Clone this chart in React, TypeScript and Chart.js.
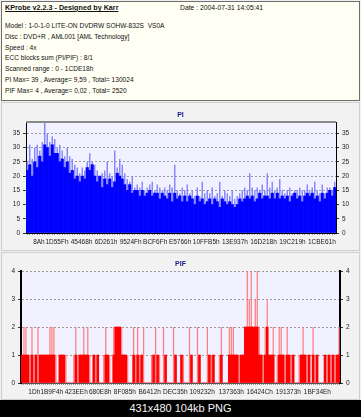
import React, { useEffect, useRef } from 'react';
import { Chart, registerables } from 'chart.js';

Chart.register(...registerables);

// ---------- text ----------
const headerTitle = 'KProbe v2.2.3 - Designed by Karr';
const headerDate = 'Date : 2004-07-31 14:05:41';
const headerLines = [
  'Model : 1-0-1-0 LITE-ON DVDRW SOHW-832S  VS0A',
  'Disc : DVD+R , AML001 [AML Technology]',
  'Speed : 4x',
  'ECC blocks sum (PI/PIF) : 8/1',
  'Scanned range : 0 - 1CDE18h',
  'PI Max= 39 , Average= 9,59 , Total= 130024',
  'PIF Max= 4 , Average= 0,02 , Total= 2520',
];
const imageCaption = '431x480 104kb PNG';
const piTitle = 'PI';
const pifTitle = 'PIF';

// ---------- axes ----------
const scanEndLabel = '1CDE18h';
const piTickLabels = ['8Ah', '1D55Fh', '45468h', '6D261h', '9524Fh', 'BCF6Fh', 'E5766h', '10FFB5h', '13E937h', '16D218h', '19C219h', '1CBE61h'];
const pifTickLabels = ['1Dh', '1B9F4h', '423EEh', '680E8h', '8F085h', 'B6412h', 'DEC35h', '109232h', '137363h', '16424Ch', '191373h', '1BF34Eh'];
const piYMax = 39;
const piYStep = 5;
const pifYMax = 4;
const pifYStep = 1;

// ---------- data ----------
// PI: peak (light spikes) and typical (solid) per sample block
const piPeak = [
  25, 31, 26, 30, 31, 29, 32, 39, 35, 32, 34, 33, 30, 31, 29, 27, 30, 27, 26, 24,
  23, 21, 23, 22, 25, 28, 25, 24, 22, 20, 21, 22, 25, 21, 20, 29, 23, 26, 24, 21,
  19, 18, 20, 16, 17, 16, 18, 15, 16, 17, 18, 15, 17, 16, 15, 16, 15, 17, 16, 24,
  15, 14, 16, 15, 17, 14, 15, 13, 16, 13, 18, 14, 15, 14, 16, 13, 14, 18, 13, 15,
  14, 13, 15, 12, 13, 14, 15, 16, 15, 21, 16, 15, 16, 15, 17, 15, 21, 16, 18, 15,
  16, 19, 15, 14, 15, 16, 14, 15, 15, 16, 15, 15, 17, 15, 16, 18, 15, 14, 17, 14,
  16, 16, 15, 18,
];
const piBase = [
  22, 24, 20, 25, 23, 27, 25, 31, 30, 27, 31, 28, 28, 25, 26, 23, 25, 21, 22, 19,
  20, 18, 20, 19, 23, 22, 24, 20, 18, 20, 16, 19, 17, 19, 16, 18, 21, 20, 19, 17,
  15, 17, 14, 15, 15, 13, 15, 13, 14, 15, 13, 14, 14, 12, 14, 13, 12, 14, 11, 14,
  12, 13, 11, 13, 11, 13, 12, 10, 13, 11, 12, 10, 11, 12, 10, 12, 11, 9, 12, 11,
  10, 11, 10, 9, 10, 12, 11, 12, 13, 12, 13, 11, 12, 14, 12, 13, 13, 12, 14, 12,
  14, 12, 13, 12, 13, 11, 13, 14, 12, 13, 11, 13, 14, 13, 14, 12, 13, 11, 14, 12,
  14, 15, 13, 16,
];
// PIF: peak (light spikes) and dense (solid) per sample block
const pifPeak = [
  1, 2, 2, 1, 1, 2, 1, 1, 2, 1, 1, 1, 1, 1, 2, 2, 2, 1, 0, 1,
  1, 1, 1, 0, 0, 0, 1, 2, 1, 1, 1, 2, 1, 2, 1, 0, 1, 1, 1, 0,
  0, 1, 2, 1, 1, 0, 2, 2, 2, 2, 2, 1, 1, 1, 0, 0, 2, 1, 2, 1,
  1, 2, 0, 0, 0, 1, 1, 2, 1, 1, 0, 2, 1, 0, 0, 0, 2, 1, 0, 0,
  1, 1, 0, 0, 2, 1, 0, 0, 2, 1, 0, 0, 0, 2, 1, 1, 1, 0, 0, 1,
  2, 0, 0, 0, 2, 2, 2, 1, 1, 1, 1, 1, 2, 4, 3, 4, 2, 3, 4, 2,
  1, 1, 2, 3, 1, 1, 2, 0, 1, 2, 2, 1, 1, 2, 1, 1, 1, 0, 0, 1,
  1, 2, 1, 1, 1, 0, 2, 1, 1, 0, 0, 0, 1, 1, 1, 1, 1, 1, 1, 2,
];
const pifBase = [
  1, 1, 1, 1, 0, 1, 0, 1, 0, 1, 1, 1, 1, 1, 1, 1, 1, 0, 0, 1,
  1, 1, 0, 0, 0, 0, 0, 1, 0, 1, 1, 1, 1, 1, 0, 0, 1, 0, 1, 0,
  0, 0, 1, 1, 0, 0, 1, 2, 2, 2, 1, 1, 1, 0, 0, 0, 1, 0, 1, 0,
  1, 0, 0, 0, 0, 0, 1, 0, 1, 0, 0, 0, 1, 0, 0, 0, 0, 1, 0, 0,
  1, 0, 0, 0, 0, 1, 0, 0, 0, 1, 0, 0, 0, 0, 1, 0, 1, 0, 0, 0,
  1, 0, 0, 0, 1, 1, 1, 1, 1, 0, 1, 1, 2, 2, 2, 2, 2, 2, 2, 1,
  1, 0, 1, 2, 1, 1, 1, 0, 0, 1, 1, 1, 0, 1, 1, 0, 1, 0, 0, 0,
  1, 1, 1, 0, 1, 0, 1, 0, 1, 0, 0, 0, 1, 0, 1, 0, 1, 0, 1, 1,
];

// ---------- helpers ----------
const FONT = '"Liberation Sans", Arial, sans-serif';
const hexOf = (label: string) => parseInt(label.replace(/h$/, ''), 16);

const plotFrame = {
  id: 'plotFrame',
  beforeDraw(chart: any, _args: any, opts: any) {
    const { ctx, chartArea: a } = chart;
    ctx.save();
    ctx.fillStyle = opts.fill;
    ctx.fillRect(a.left, a.top, a.right - a.left, a.bottom - a.top);
    ctx.restore();
  },
  afterDraw(chart: any, _args: any, opts: any) {
    if (!opts.topLine) return;
    const { ctx, chartArea: a } = chart;
    ctx.save();
    ctx.strokeStyle = opts.topLine;
    ctx.lineWidth = 2;
    ctx.beginPath();
    ctx.moveTo(a.left, a.top);
    ctx.lineTo(a.right, a.top);
    ctx.stroke();
    ctx.restore();
  },
};

type Params = {
  base: number[];
  peak: number[];
  baseColor: string;
  peakColor: string;
  peakWidth: number;
  yMax: number;
  yStep: number;
  tickLabels: string[];
  padTop: number;
  xAxisH: number;
  leftW: number;
  rightW: number;
  yAxisWidth: number;
  yAxisColor: string;
  xAxisColor: string;
  topLine: string | null;
};

function buildConfig(p: Params): any {
  const tickValues = p.tickLabels.map(hexOf);
  const tickFont = { family: FONT, size: 6.5 };
  const yTicks = {
    stepSize: p.yStep,
    includeBounds: false,
    padding: 3,
    color: '#222',
    font: tickFont,
  };
  return {
    type: 'bar',
    data: {
      labels: p.base.map((_, i) => String(i)),
      datasets: [
        {
          data: p.base,
          backgroundColor: p.baseColor,
          borderWidth: 0,
          barPercentage: 1,
          categoryPercentage: 1,
          grouped: false,
          xAxisID: 'x',
          yAxisID: 'y',
        },
        {
          data: p.peak,
          backgroundColor: p.peakColor,
          borderWidth: 0,
          barPercentage: p.peakWidth,
          categoryPercentage: 1,
          grouped: false,
          xAxisID: 'x',
          yAxisID: 'y',
        },
      ],
    },
    options: {
      responsive: false,
      animation: false,
      events: [],
      layout: { padding: { top: p.padTop, left: 0, right: 0, bottom: 0 } },
      plugins: {
        legend: { display: false },
        tooltip: { enabled: false },
        title: { display: false },
        plotFrame: { fill: '#f1f1ff', topLine: p.topLine },
      },
      scales: {
        x: {
          type: 'category',
          position: 'bottom',
          weight: 0,
          offset: true,
          grid: { display: true, drawOnChartArea: false, drawTicks: true, tickLength: 2, color: '#9a9a9a', offset: false },
          ticks: { display: false },
          border: { display: false },
          afterFit: (s: any) => { s.height = 0; },
        },
        xl: {
          type: 'linear',
          position: 'bottom',
          weight: 1,
          min: tickValues[0],
          max: hexOf(scanEndLabel),
          afterBuildTicks: (s: any) => { s.ticks = tickValues.map((v) => ({ value: v })); },
          ticks: {
            autoSkip: false,
            maxRotation: 0,
            minRotation: 0,
            padding: 5,
            color: '#222',
            font: tickFont,
            callback: (_v: any, i: number) => p.tickLabels[i],
          },
          grid: { display: true, drawOnChartArea: false, drawTicks: false },
          border: { display: true, color: p.xAxisColor, width: 1 },
          afterFit: (s: any) => { s.height = p.xAxisH; },
        },
        y: {
          position: 'left',
          min: 0,
          max: p.yMax,
          ticks: yTicks,
          grid: { color: '#9a9a9a', lineWidth: 1, drawTicks: true, tickLength: 3, tickColor: '#333' },
          border: { display: true, color: p.yAxisColor, width: p.yAxisWidth, dash: [2, 2] },
          afterFit: (s: any) => { s.width = p.leftW; },
        },
        y2: {
          position: 'right',
          min: 0,
          max: p.yMax,
          ticks: yTicks,
          grid: { drawOnChartArea: false, drawTicks: true, tickLength: 3, tickColor: '#333' },
          border: { display: true, color: p.yAxisColor, width: p.yAxisWidth },
          afterFit: (s: any) => { s.width = p.rightW; },
        },
      },
    },
    plugins: [plotFrame],
  };
}

function BarPanel(props: { params: Params; top: number; height: number }) {
  const ref = useRef<HTMLCanvasElement | null>(null);
  useEffect(() => {
    if (!ref.current) return;
    const chart = new Chart(ref.current, buildConfig(props.params));
    return () => chart.destroy();
  }, []);
  return (
    <canvas
      ref={ref}
      width={361}
      height={props.height}
      style={{ position: 'absolute', left: 0, top: props.top, width: 361, height: props.height }}
    />
  );
}

const textBase: React.CSSProperties = {
  position: 'absolute',
  fontFamily: FONT,
  fontSize: 6.6,
  lineHeight: '10px',
  height: 10,
  color: '#111',
  whiteSpace: 'pre',
};

export default function App() {
  const piParams: Params = {
    base: piBase,
    peak: piPeak,
    baseColor: '#0000ff',
    peakColor: '#7f7fff',
    peakWidth: 0.55,
    yMax: piYMax,
    yStep: piYStep,
    tickLabels: piTickLabels,
    padTop: 18,
    xAxisH: 17,
    leftW: 26,
    rightW: 25,
    yAxisWidth: 1,
    yAxisColor: '#000',
    xAxisColor: '#000',
    topLine: '#8a8a8a',
  };
  const pifParams: Params = {
    base: pifBase,
    peak: pifPeak,
    baseColor: '#ff0000',
    peakColor: '#ff7a7a',
    peakWidth: 0.6,
    yMax: pifYMax,
    yStep: pifYStep,
    tickLabels: pifTickLabels,
    padTop: 19,
    xAxisH: 16,
    leftW: 21,
    rightW: 21,
    yAxisWidth: 2,
    yAxisColor: '#000',
    xAxisColor: '#555',
    topLine: null,
  };

  return (
    <div style={{ position: 'absolute', left: 0, top: 0, width: 361, height: 417, overflow: 'hidden', background: '#f0f0f0' }}>
      {/* header box */}
      <div style={{ position: 'absolute', left: 1, top: 1, width: 357, height: 98, background: '#fffff3', border: '1px solid #6e6e6e' }} />
      <div style={{ ...textBase, left: 5, top: 3, fontSize: 7.2, fontWeight: 'bold', textDecoration: 'underline' }}>{headerTitle}</div>
      <div style={{ ...textBase, left: 180, top: 3, fontSize: 6.8 }}>{headerDate}</div>
      {headerLines.map((t, i) => (
        <div key={i} style={{ ...textBase, left: 5, top: 21 + i * 10.8 }}>{t}</div>
      ))}

      {/* PI panel */}
      <div style={{ position: 'absolute', left: 1, top: 102, width: 357, height: 147, background: '#f2f2f2', border: '1px solid #cfcfcf' }} />
      <BarPanel params={piParams} top={104} height={146} />
      <div style={{ ...textBase, left: 0, width: 361, textAlign: 'center', top: 110, fontSize: 7, fontWeight: 'bold', color: '#1a1a8c' }}>{piTitle}</div>

      {/* PIF panel */}
      <div style={{ position: 'absolute', left: 1, top: 252, width: 357, height: 146, background: '#f2f2f2', border: '1px solid #cfcfcf' }} />
      <BarPanel params={pifParams} top={252} height={147} />
      <div style={{ ...textBase, left: 0, width: 361, textAlign: 'center', top: 259, fontSize: 7, fontWeight: 'bold', color: '#1a1a8c' }}>{pifTitle}</div>

      {/* caption band */}
      <div
        style={{
          position: 'absolute',
          left: 0,
          top: 400,
          width: 361,
          height: 17,
          background: '#000',
          color: '#f4f4f4',
          fontFamily: '"Liberation Sans", Arial, sans-serif',
          fontSize: 11,
          lineHeight: '17px',
          textAlign: 'center',
        }}
      >
        {imageCaption}
      </div>
    </div>
  );
}
